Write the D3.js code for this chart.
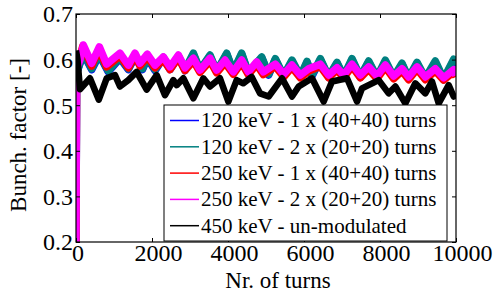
<!DOCTYPE html>
<html>
<head>
<meta charset="utf-8">
<script src="https://cdn.jsdelivr.net/npm/d3@7"></script>
<style>
  body { margin: 0; background: #fff; }
  text { font-family: "Liberation Serif", "Times New Roman", serif; fill: #000; }
</style>
</head>
<body>
<div id="chart"></div>
<script>
// tick values
var xTicks = [0, 2000, 4000, 6000, 8000, 10000];
var yTicks = [0.2, 0.3, 0.4, 0.5, 0.6, 0.7];

var legendLabels = [
  "120 keV - 1 x (40+40) turns",
  "120 keV - 2 x (20+20) turns",
  "250 keV - 1 x (40+40) turns",
  "250 keV - 2 x (20+20) turns",
  "450 keV - un-modulated"
];
var colors = ["#0000ff", "#008080", "#ff0000", "#ff00ff", "#000000"];

// [turn, bunching factor] (centre of each band)
var blue120a = [[0, 0.2], [15, 0.57], [193, 0.613], [412, 0.578], [614, 0.610], [850, 0.573],
  [1158, 0.603], [1377, 0.578], [1553, 0.606], [1750, 0.578], [1877, 0.603], [2079, 0.576],
  [2298, 0.603], [2474, 0.578], [2693, 0.606], [2868, 0.576], [3088, 0.612], [3263, 0.576],
  [3526, 0.608], [3702, 0.573], [3965, 0.612], [4140, 0.573], [4360, 0.612], [4535, 0.570],
  [4886, 0.604], [5070, 0.566], [5246, 0.600], [5465, 0.563], [5684, 0.597], [5904, 0.562],
  [6080, 0.594], [6211, 0.564], [6430, 0.600], [6649, 0.561], [6868, 0.592], [7044, 0.562],
  [7263, 0.600], [7482, 0.561], [7702, 0.595], [7921, 0.560], [8140, 0.596], [8360, 0.560],
  [8579, 0.590], [8754, 0.558], [8974, 0.592], [9193, 0.558], [9456, 0.594], [9675, 0.556],
  [9939, 0.598], [10000, 0.585]];

var teal120b = [[0, 0.2], [15, 0.57], [193, 0.615], [412, 0.580], [614, 0.612], [850, 0.575],
  [1158, 0.605], [1377, 0.580], [1553, 0.608], [1750, 0.580], [1877, 0.605], [2079, 0.578],
  [2298, 0.605], [2474, 0.580], [2693, 0.608], [2868, 0.578], [3088, 0.614], [3263, 0.578],
  [3526, 0.610], [3702, 0.575], [3965, 0.614], [4140, 0.575], [4360, 0.614], [4535, 0.572],
  [4886, 0.606], [5070, 0.568], [5246, 0.602], [5465, 0.565], [5684, 0.599], [5904, 0.564],
  [6080, 0.596], [6211, 0.566], [6430, 0.602], [6649, 0.563], [6868, 0.594], [7044, 0.564],
  [7263, 0.602], [7482, 0.563], [7702, 0.597], [7921, 0.562], [8140, 0.599], [8360, 0.562],
  [8579, 0.592], [8754, 0.560], [8974, 0.594], [9193, 0.560], [9456, 0.597], [9675, 0.558],
  [9939, 0.601], [10000, 0.588]];

var red250a = [[0, 0.2], [15, 0.58], [180, 0.630], [412, 0.586], [600, 0.622], [807, 0.584],
  [1158, 0.608], [1377, 0.582], [1553, 0.608], [1684, 0.586], [1877, 0.606], [2079, 0.582],
  [2298, 0.600], [2474, 0.578], [2693, 0.604], [2868, 0.576], [3088, 0.597], [3263, 0.572],
  [3526, 0.597], [3702, 0.571], [3921, 0.593], [4140, 0.568], [4360, 0.593], [4535, 0.567],
  [4754, 0.589], [4930, 0.567], [5246, 0.585], [5465, 0.562], [5684, 0.583], [5904, 0.560],
  [6123, 0.575], [6430, 0.585], [6649, 0.560], [6868, 0.577], [7044, 0.560], [7263, 0.585],
  [7482, 0.560], [7702, 0.579], [7921, 0.558], [8140, 0.583], [8360, 0.558], [8579, 0.575],
  [8754, 0.556], [8974, 0.579], [9193, 0.556], [9456, 0.575], [9675, 0.555], [9939, 0.573],
  [10000, 0.562]];

var mag250b = [[0, 0.2], [15, 0.58], [105, 0.600], [193, 0.632], [412, 0.592], [614, 0.628],
  [807, 0.590], [1158, 0.614], [1377, 0.588], [1553, 0.614], [1684, 0.592], [1877, 0.612],
  [2079, 0.588], [2298, 0.606], [2474, 0.584], [2693, 0.610], [2868, 0.582], [3088, 0.603],
  [3263, 0.577], [3526, 0.603], [3702, 0.577], [3921, 0.599], [4140, 0.573], [4360, 0.599],
  [4535, 0.573], [4754, 0.595], [4930, 0.573], [5246, 0.590], [5465, 0.568], [5684, 0.588],
  [5904, 0.566], [6123, 0.580], [6430, 0.590], [6649, 0.566], [6868, 0.582], [7044, 0.566],
  [7263, 0.590], [7482, 0.566], [7702, 0.584], [7921, 0.564], [8140, 0.588], [8360, 0.564],
  [8579, 0.580], [8754, 0.562], [8974, 0.584], [9193, 0.562], [9456, 0.580], [9675, 0.560],
  [9939, 0.578], [10000, 0.565]];

var black450 = [[0, 0.620], [40, 0.600], [105, 0.535], [368, 0.559], [600, 0.512], [807, 0.559],
  [1026, 0.566], [1158, 0.541], [1377, 0.555], [1596, 0.573], [1860, 0.534], [2123, 0.566],
  [2342, 0.522], [2561, 0.555], [2650, 0.544], [2825, 0.559], [3088, 0.515], [3351, 0.559],
  [3526, 0.541], [3789, 0.559], [4009, 0.508], [4228, 0.555], [4400, 0.548], [4623, 0.562],
  [4842, 0.526], [5070, 0.519], [5421, 0.559], [5684, 0.519], [5860, 0.541], [6211, 0.559],
  [6518, 0.508], [6737, 0.552], [7132, 0.559], [7395, 0.508], [7526, 0.537], [7965, 0.555],
  [8228, 0.526], [8404, 0.541], [8667, 0.504], [8930, 0.548], [9193, 0.526], [9368, 0.552],
  [9544, 0.504], [9807, 0.544], [9939, 0.519], [10000, 0.525]];

var series = [blue120a, teal120b, red250a, mag250b, black450];

var W = 493, H = 293;
var margin = {top: 14, right: 37, bottom: 51, left: 76};
var pLeft = margin.left, pRight = W - margin.right, pTop = margin.top, pBottom = H - margin.bottom;

var svg = d3.select("#chart").append("svg")
  .attr("width", W).attr("height", H);

var x = d3.scaleLinear().domain([0, 10000]).range([pLeft, pRight]);
var y = d3.scaleLinear().domain([0.2, 0.7]).range([pBottom, pTop]);

svg.append("clipPath").attr("id", "clip")
  .append("rect")
  .attr("x", pLeft).attr("y", pTop)
  .attr("width", pRight - pLeft).attr("height", pBottom - pTop);

var line = d3.line()
  .x(function(d) { return x(d[0]); })
  .y(function(d) { return y(d[1]); });

// thick strokes stand in for the fast turn-by-turn ripple of each band
var plot = svg.append("g").attr("clip-path", "url(#clip)");
series.forEach(function(s, i) {
  plot.append("path")
    .datum(s)
    .attr("d", line)
    .attr("fill", "none")
    .attr("stroke", colors[i])
    .attr("stroke-width", i == 4 ? 6.5 : 7.5)
    .attr("stroke-linejoin", "round");
});

// axes, ticks point inward
var gx = svg.append("g")
  .attr("transform", "translate(0," + pBottom + ")")
  .call(d3.axisBottom(x).tickValues(xTicks).tickSize(-4).tickFormat(d3.format("d")));
gx.selectAll("text").attr("y", 19).attr("dy", 0)
  .attr("dx", function(d) { return d == 0 ? 1.5 : 6; })
  .style("font-size", "24px");

var gy = svg.append("g")
  .attr("transform", "translate(" + pLeft + ",0)")
  .call(d3.axisLeft(y).tickValues(yTicks).tickSize(-4).tickFormat(d3.format(".1f")));
gy.selectAll("text").attr("x", -3).attr("dy", "0.33em").style("font-size", "24px");

svg.append("g")
  .attr("transform", "translate(0," + pTop + ")")
  .call(d3.axisTop(x).tickValues(xTicks).tickSize(-4).tickFormat(""));
svg.append("g")
  .attr("transform", "translate(" + pRight + ",0)")
  .call(d3.axisRight(y).tickValues(yTicks).tickSize(-4).tickFormat(""));

svg.selectAll(".domain").remove();
svg.selectAll(".tick line").attr("stroke", "#000");
svg.selectAll(".tick text").attr("fill", "#000").style("font-family", "'Liberation Serif', serif");

svg.append("rect")
  .attr("x", pLeft).attr("y", pTop)
  .attr("width", pRight - pLeft).attr("height", pBottom - pTop)
  .attr("fill", "none").attr("stroke", "#000").attr("stroke-width", 1.2);

// legend
var legend = svg.append("g");
legend.append("rect")
  .attr("x", 164).attr("y", 105)
  .attr("width", 283).attr("height", 136)
  .attr("fill", "#fff").attr("stroke", "#000").attr("stroke-width", 1);

legendLabels.forEach(function(lab, i) {
  var ly = 120.5 + i * 26.3;
  legend.append("line")
    .attr("x1", 170).attr("x2", 199)
    .attr("y1", ly).attr("y2", ly)
    .attr("stroke", colors[i]).attr("stroke-width", 1.5);
  legend.append("text")
    .attr("x", 201).attr("y", ly)
    .attr("dy", "0.33em")
    .style("font-size", "21px")
    .text(lab);
});

// axis titles
svg.append("text")
  .attr("x", 278).attr("y", 288)
  .attr("text-anchor", "middle")
  .style("font-size", "23px")
  .text("Nr. of turns");

svg.append("text")
  .attr("transform", "translate(26,135) rotate(-90)")
  .attr("text-anchor", "middle")
  .style("font-size", "23px")
  .text("Bunch. factor [-]");
</script>
</body>
</html>
